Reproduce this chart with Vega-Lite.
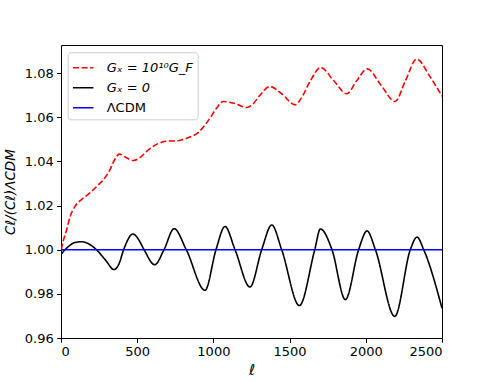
{
  "$schema": "https://vega.github.io/schema/vega-lite/v6.json",
  "width": 381,
  "height": 293,
  "autosize": {"type": "none"},
  "padding": {"left": 61, "top": 45, "right": 49, "bottom": 43},
  "background": "white",
  "config": {
    "font": "DejaVu Sans",
    "view": {"stroke": "#000000", "strokeWidth": 1},
    "axis": {
      "grid": false,
      "domain": false,
      "tickColor": "#000000",
      "tickSize": 4.3,
      "tickWidth": 1,
      "labelColor": "#000000",
      "labelFont": "DejaVu Sans",
      "labelFontSize": 13,
      "labelPadding": 3.5,
      "titleColor": "#000000",
      "titleFont": "DejaVu Sans",
      "titleFontWeight": "normal",
      "titleFontStyle": "italic"
    }
  },
  "data": {
    "values": [
      {"ell": 2, "ratio": 1.0, "series": "Gₓ = 10¹⁰G_F"},
      {"ell": 15, "ratio": 1.004, "series": "Gₓ = 10¹⁰G_F"},
      {"ell": 37, "ratio": 1.009, "series": "Gₓ = 10¹⁰G_F"},
      {"ell": 60, "ratio": 1.015, "series": "Gₓ = 10¹⁰G_F"},
      {"ell": 92, "ratio": 1.0196, "series": "Gₓ = 10¹⁰G_F"},
      {"ell": 140, "ratio": 1.023, "series": "Gₓ = 10¹⁰G_F"},
      {"ell": 190, "ratio": 1.0257, "series": "Gₓ = 10¹⁰G_F"},
      {"ell": 235, "ratio": 1.0287, "series": "Gₓ = 10¹⁰G_F"},
      {"ell": 278, "ratio": 1.0317, "series": "Gₓ = 10¹⁰G_F"},
      {"ell": 320, "ratio": 1.036, "series": "Gₓ = 10¹⁰G_F"},
      {"ell": 350, "ratio": 1.0405, "series": "Gₓ = 10¹⁰G_F"},
      {"ell": 383, "ratio": 1.0433, "series": "Gₓ = 10¹⁰G_F"},
      {"ell": 420, "ratio": 1.042, "series": "Gₓ = 10¹⁰G_F"},
      {"ell": 475, "ratio": 1.0404, "series": "Gₓ = 10¹⁰G_F"},
      {"ell": 520, "ratio": 1.0418, "series": "Gₓ = 10¹⁰G_F"},
      {"ell": 562, "ratio": 1.0445, "series": "Gₓ = 10¹⁰G_F"},
      {"ell": 610, "ratio": 1.047, "series": "Gₓ = 10¹⁰G_F"},
      {"ell": 661, "ratio": 1.0487, "series": "Gₓ = 10¹⁰G_F"},
      {"ell": 710, "ratio": 1.0492, "series": "Gₓ = 10¹⁰G_F"},
      {"ell": 759, "ratio": 1.0493, "series": "Gₓ = 10¹⁰G_F"},
      {"ell": 800, "ratio": 1.0499, "series": "Gₓ = 10¹⁰G_F"},
      {"ell": 846, "ratio": 1.051, "series": "Gₓ = 10¹⁰G_F"},
      {"ell": 900, "ratio": 1.053, "series": "Gₓ = 10¹⁰G_F"},
      {"ell": 945, "ratio": 1.0565, "series": "Gₓ = 10¹⁰G_F"},
      {"ell": 978, "ratio": 1.0596, "series": "Gₓ = 10¹⁰G_F"},
      {"ell": 1020, "ratio": 1.064, "series": "Gₓ = 10¹⁰G_F"},
      {"ell": 1065, "ratio": 1.0671, "series": "Gₓ = 10¹⁰G_F"},
      {"ell": 1140, "ratio": 1.0662, "series": "Gₓ = 10¹⁰G_F"},
      {"ell": 1218, "ratio": 1.0644, "series": "Gₓ = 10¹⁰G_F"},
      {"ell": 1260, "ratio": 1.066, "series": "Gₓ = 10¹⁰G_F"},
      {"ell": 1300, "ratio": 1.0695, "series": "Gₓ = 10¹⁰G_F"},
      {"ell": 1371, "ratio": 1.0739, "series": "Gₓ = 10¹⁰G_F"},
      {"ell": 1450, "ratio": 1.0705, "series": "Gₓ = 10¹⁰G_F"},
      {"ell": 1536, "ratio": 1.0656, "series": "Gₓ = 10¹⁰G_F"},
      {"ell": 1580, "ratio": 1.069, "series": "Gₓ = 10¹⁰G_F"},
      {"ell": 1634, "ratio": 1.0762, "series": "Gₓ = 10¹⁰G_F"},
      {"ell": 1704, "ratio": 1.0825, "series": "Gₓ = 10¹⁰G_F"},
      {"ell": 1790, "ratio": 1.0765, "series": "Gₓ = 10¹⁰G_F"},
      {"ell": 1875, "ratio": 1.0706, "series": "Gₓ = 10¹⁰G_F"},
      {"ell": 1940, "ratio": 1.0765, "series": "Gₓ = 10¹⁰G_F"},
      {"ell": 2010, "ratio": 1.0819, "series": "Gₓ = 10¹⁰G_F"},
      {"ell": 2100, "ratio": 1.0745, "series": "Gₓ = 10¹⁰G_F"},
      {"ell": 2192, "ratio": 1.0671, "series": "Gₓ = 10¹⁰G_F"},
      {"ell": 2260, "ratio": 1.0765, "series": "Gₓ = 10¹⁰G_F"},
      {"ell": 2334, "ratio": 1.0863, "series": "Gₓ = 10¹⁰G_F"},
      {"ell": 2420, "ratio": 1.0785, "series": "Gₓ = 10¹⁰G_F"},
      {"ell": 2500, "ratio": 1.0695, "series": "Gₓ = 10¹⁰G_F"},
      {"ell": 2, "ratio": 0.998, "series": "Gₓ = 0"},
      {"ell": 20, "ratio": 0.9995, "series": "Gₓ = 0"},
      {"ell": 50, "ratio": 1.0015, "series": "Gₓ = 0"},
      {"ell": 90, "ratio": 1.0032, "series": "Gₓ = 0"},
      {"ell": 138, "ratio": 1.0036, "series": "Gₓ = 0"},
      {"ell": 185, "ratio": 1.0025, "series": "Gₓ = 0"},
      {"ell": 232, "ratio": 1.0, "series": "Gₓ = 0"},
      {"ell": 290, "ratio": 0.9955, "series": "Gₓ = 0"},
      {"ell": 348, "ratio": 0.991, "series": "Gₓ = 0"},
      {"ell": 380, "ratio": 0.9935, "series": "Gₓ = 0"},
      {"ell": 411, "ratio": 1.0, "series": "Gₓ = 0"},
      {"ell": 472, "ratio": 1.0071, "series": "Gₓ = 0"},
      {"ell": 510, "ratio": 1.0045, "series": "Gₓ = 0"},
      {"ell": 545, "ratio": 1.0, "series": "Gₓ = 0"},
      {"ell": 615, "ratio": 0.9932, "series": "Gₓ = 0"},
      {"ell": 676, "ratio": 1.0, "series": "Gₓ = 0"},
      {"ell": 742, "ratio": 1.0095, "series": "Gₓ = 0"},
      {"ell": 822, "ratio": 1.0, "series": "Gₓ = 0"},
      {"ell": 945, "ratio": 0.9816, "series": "Gₓ = 0"},
      {"ell": 1017, "ratio": 1.0, "series": "Gₓ = 0"},
      {"ell": 1076, "ratio": 1.0105, "series": "Gₓ = 0"},
      {"ell": 1142, "ratio": 1.0, "series": "Gₓ = 0"},
      {"ell": 1240, "ratio": 0.9831, "series": "Gₓ = 0"},
      {"ell": 1317, "ratio": 1.0, "series": "Gₓ = 0"},
      {"ell": 1383, "ratio": 1.0112, "series": "Gₓ = 0"},
      {"ell": 1448, "ratio": 1.0, "series": "Gₓ = 0"},
      {"ell": 1564, "ratio": 0.9747, "series": "Gₓ = 0"},
      {"ell": 1665, "ratio": 1.0, "series": "Gₓ = 0"},
      {"ell": 1702, "ratio": 1.0094, "series": "Gₓ = 0"},
      {"ell": 1778, "ratio": 1.0, "series": "Gₓ = 0"},
      {"ell": 1866, "ratio": 0.9774, "series": "Gₓ = 0"},
      {"ell": 1953, "ratio": 1.0, "series": "Gₓ = 0"},
      {"ell": 2008, "ratio": 1.0085, "series": "Gₓ = 0"},
      {"ell": 2063, "ratio": 1.0, "series": "Gₓ = 0"},
      {"ell": 2190, "ratio": 0.9698, "series": "Gₓ = 0"},
      {"ell": 2292, "ratio": 1.0, "series": "Gₓ = 0"},
      {"ell": 2336, "ratio": 1.0057, "series": "Gₓ = 0"},
      {"ell": 2380, "ratio": 1.0, "series": "Gₓ = 0"},
      {"ell": 2500, "ratio": 0.9735, "series": "Gₓ = 0"},
      {"ell": 0, "ratio": 1.0, "series": "ΛCDM"},
      {"ell": 2500, "ratio": 1.0, "series": "ΛCDM"}
    ]
  },
  "mark": {"type": "line", "interpolate": "monotone", "strokeWidth": 1.6, "clip": true},
  "encoding": {
    "x": {
      "field": "ell",
      "type": "quantitative",
      "scale": {"domain": [0, 2500], "nice": false, "zero": false},
      "axis": {"values": [0, 500, 1000, 1500, 2000, 2500], "format": "d", "title": "ℓ", "titleFontSize": 15, "titlePadding": 4}
    },
    "y": {
      "field": "ratio",
      "type": "quantitative",
      "scale": {"domain": [0.96, 1.0927], "nice": false, "zero": false},
      "axis": {"values": [0.96, 0.98, 1.0, 1.02, 1.04, 1.06, 1.08], "format": ".2f", "title": "Cℓ/(Cℓ)ΛCDM", "titleFontSize": 13.5, "titlePadding": 7}
    },
    "color": {
      "field": "series",
      "type": "nominal",
      "scale": {"domain": ["Gₓ = 10¹⁰G_F", "Gₓ = 0", "ΛCDM"], "range": ["#ff0000", "#000000", "#0000ff"]},
      "legend": {
        "title": null,
        "orient": "none",
        "legendX": 6.7,
        "legendY": 7.3,
        "padding": 4,
        "fillColor": "rgba(255,255,255,0.8)",
        "strokeColor": "#cccccc",
        "cornerRadius": 3,
        "symbolType": "stroke",
        "symbolSize": 420,
        "symbolStrokeWidth": 1.6,
        "labelFont": "DejaVu Sans",
        "labelFontSize": 13,
        "labelColor": "#000000",
        "labelOffset": 12,
        "rowPadding": 1,
        "encode": {"labels": {"update": {"fontStyle": {"signal": "datum.label == 'ΛCDM' ? 'normal' : 'italic'"}}}}
      }
    },
    "strokeDash": {
      "field": "series",
      "type": "nominal",
      "scale": {"domain": ["Gₓ = 10¹⁰G_F", "Gₓ = 0", "ΛCDM"], "range": [[6, 2.6], [1, 0], [1, 0]]},
      "legend": {
        "title": null,
        "orient": "none",
        "legendX": 6.7,
        "legendY": 7.3,
        "padding": 4,
        "fillColor": "rgba(255,255,255,0.8)",
        "strokeColor": "#cccccc",
        "cornerRadius": 3,
        "symbolType": "stroke",
        "symbolSize": 420,
        "symbolStrokeWidth": 1.6,
        "labelFont": "DejaVu Sans",
        "labelFontSize": 13,
        "labelColor": "#000000",
        "labelOffset": 12,
        "rowPadding": 1,
        "encode": {"labels": {"update": {"fontStyle": {"signal": "datum.label == 'ΛCDM' ? 'normal' : 'italic'"}}}}
      }
    }
  }
}
